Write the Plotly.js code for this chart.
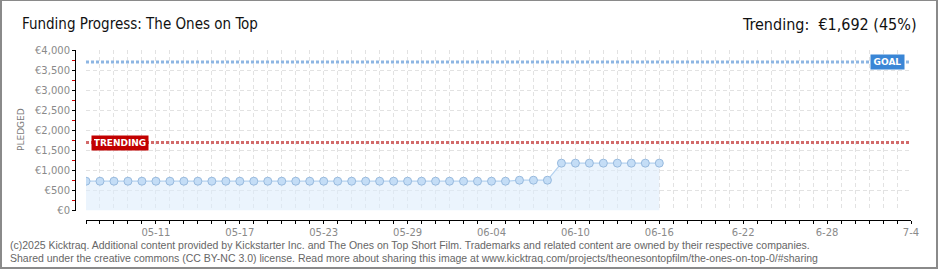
<!DOCTYPE html>
<html>
<head>
<meta charset="utf-8">
<script src="https://cdn.plot.ly/plotly-3.0.1.min.js"></script>
<style>
  html, body { margin: 0; padding: 0; background: #ffffff; }
  #wrap { position: relative; width: 940px; height: 270px; overflow: hidden; }
  #chart { position: absolute; left: 0; top: 0; width: 940px; height: 270px; }
  #frame { position: absolute; left: 0; top: 0; width: 938px; height: 269px; box-sizing: border-box;
           border-left: 2px solid #8a8a8a; border-top: 1px solid #8a8a8a;
           border-right: 2px solid #8a8a8a; border-bottom: 2px solid #8a8a8a; pointer-events: none; }
</style>
</head>
<body>
<div id="wrap">
  <div id="chart"></div>
  <div id="frame"></div>
</div>
<script>
// ---- data ----
const dates = [
  '2025-05-06','2025-05-07','2025-05-08','2025-05-09','2025-05-10','2025-05-11','2025-05-12',
  '2025-05-13','2025-05-14','2025-05-15','2025-05-16','2025-05-17','2025-05-18','2025-05-19',
  '2025-05-20','2025-05-21','2025-05-22','2025-05-23','2025-05-24','2025-05-25','2025-05-26',
  '2025-05-27','2025-05-28','2025-05-29','2025-05-30','2025-05-31','2025-06-01','2025-06-02',
  '2025-06-03','2025-06-04','2025-06-05','2025-06-06','2025-06-07','2025-06-08','2025-06-09',
  '2025-06-10','2025-06-11','2025-06-12','2025-06-13','2025-06-14','2025-06-15','2025-06-16'
];
const pledged = [
  730,730,730,730,730,730,730,
  730,730,730,730,730,730,730,
  730,730,730,730,730,730,730,
  730,730,730,730,730,730,730,
  730,730,730,755,755,755,1180,
  1180,1180,1180,1180,1180,1180,1180
];
const trendingValue = 1692;
const goalValue = 3700;
const xStart = '2025-05-06';
const xEnd = '2025-07-04';
const tickDates = ['2025-05-11','2025-05-17','2025-05-23','2025-05-29','2025-06-04','2025-06-10','2025-06-16','2025-06-22','2025-06-28','2025-07-04'];
const tickLabels = ['05-11','05-17','05-23','05-29','06-04','06-10','06-16','6-22','6-28','7-4'];
const titleText = 'Funding Progress: The Ones on Top';
const trendingText = 'Trending:  €1,692 (45%)';
const footer1 = '(c)2025 Kicktraq. Additional content provided by Kickstarter Inc. and The Ones on Top Short Film. Trademarks and related content are owned by their respective companies.';
const footer2 = 'Shared under the creative commons (CC BY-NC 3.0) license. Read more about sharing this image at www.kicktraq.com/projects/theonesontopfilm/the-ones-on-top-0/#sharing';

// ---- geometry helpers (pixel -> paper) ----
const W = 940, H = 270;
const M = { l: 75, r: 29, t: 50, b: 50 };
const PW = W - M.l - M.r, PH = H - M.t - M.b;
const px = x => (x - M.l) / PW;
const py = y => (H - M.b - y) / PH;

const gridCol = '#e2e2e2';
const FONT = 'DejaVu Sans, sans-serif';
const COND = 'DejaVu Sans Condensed, DejaVu Sans, sans-serif';

const traces = [{
  type: 'scatter',
  mode: 'lines+markers',
  x: dates,
  y: pledged,
  fill: 'tozeroy',
  fillcolor: 'rgba(222,236,251,0.6)',
  line: { color: '#b4d2f0', width: 1.2 },
  marker: { size: 8, color: '#c4ddf6', line: { color: '#98bade', width: 1 } },
  hoverinfo: 'skip',
  showlegend: false
}];

const layout = {
  width: W, height: H,
  margin: M,
  paper_bgcolor: '#ffffff',
  plot_bgcolor: 'rgba(0,0,0,0)',
  showlegend: false,
  xaxis: {
    type: 'date',
    domain: [px(86), 1],
    range: [xStart, xEnd],
    anchor: 'free', position: 0,
    showline: true, linecolor: '#000000', linewidth: 1,
    tickmode: 'array', tickvals: tickDates, ticktext: tickLabels,
    ticks: 'outside', ticklen: 3, tickcolor: '#000000', tickwidth: 1,
    tickfont: { family: FONT, size: 10, color: '#8a8a8a' },
    showgrid: true, gridcolor: gridCol, griddash: '4px,3px', gridwidth: 1,
    minor: { dtick: 86400000, tick0: xStart, ticks: 'outside', ticklen: 3, tickcolor: '#000000',
             showgrid: true, gridcolor: gridCol, griddash: '4px,3px', gridwidth: 1 },
    zeroline: false, fixedrange: true
  },
  yaxis: {
    domain: [py(210.5), 1],
    range: [0, 4000],
    anchor: 'free', position: 0,
    showline: true, linecolor: '#000000', linewidth: 1,
    tickmode: 'linear', tick0: 0, dtick: 500,
    tickprefix: '€', tickformat: ',d', separatethousands: true,
    ticks: 'outside', ticklen: 3, tickcolor: '#000000',
    tickfont: { family: FONT, size: 10, color: '#8a8a8a' },
    showgrid: true, gridcolor: gridCol, griddash: '4px,3px', gridwidth: 1,
    minor: { dtick: 250, tick0: 0, ticks: 'outside', ticklen: 3, tickcolor: '#d00000', showgrid: false },
    zeroline: false, fixedrange: true
  },
  shapes: [
    { type: 'line', xref: 'x', yref: 'y', x0: xStart, x1: xEnd, y0: trendingValue, y1: trendingValue,
      line: { color: '#d26a6a', width: 3, dash: '3px,2px' } },
    { type: 'line', xref: 'x', yref: 'y', x0: xStart, x1: xEnd, y0: goalValue, y1: goalValue,
      line: { color: '#8db6e3', width: 3, dash: '3px,2px' } }
  ],
  annotations: [
    { xref: 'paper', yref: 'paper', x: px(20), y: py(24), xanchor: 'left', yanchor: 'middle',
      text: titleText, showarrow: false,
      font: { family: COND, size: 15, color: '#111111' } },
    { xref: 'paper', yref: 'paper', x: px(919), y: py(24), xanchor: 'right', yanchor: 'middle',
      text: trendingText, showarrow: false,
      font: { family: COND, size: 16, color: '#111111' } },
    { xref: 'paper', yref: 'paper', x: px(21), y: py(130), xanchor: 'center', yanchor: 'middle',
      text: 'PLEDGED', textangle: -90, showarrow: false,
      font: { family: FONT, size: 9, color: '#7a7a7a' } },
    { xref: 'paper', yref: 'y', x: px(120), y: trendingValue, xanchor: 'center', yanchor: 'middle',
      text: '<b>TRENDING</b>', showarrow: false, bgcolor: '#c20000', borderpad: 2, width: 52, height: 10,
      font: { family: FONT, size: 9, color: '#ffffff' } },
    { xref: 'paper', yref: 'y', x: px(887.5), y: goalValue, xanchor: 'center', yanchor: 'middle',
      text: '<b>GOAL</b>', showarrow: false, bgcolor: '#3a86d6', borderpad: 2, width: 29, height: 10,
      font: { family: FONT, size: 9, color: '#ffffff' } },
    { xref: 'paper', yref: 'paper', x: px(8), y: py(244.5), xanchor: 'left', yanchor: 'middle',
      text: footer1, showarrow: false,
      font: { family: 'Liberation Sans, sans-serif', size: 10.5, color: '#666666' } },
    { xref: 'paper', yref: 'paper', x: px(8), y: py(257.5), xanchor: 'left', yanchor: 'middle',
      text: footer2, showarrow: false,
      font: { family: 'Liberation Sans, sans-serif', size: 10.5, color: '#666666' } }
  ]
};

Plotly.newPlot('chart', traces, layout, { displayModeBar: false, staticPlot: true });
</script>
</body>
</html>
